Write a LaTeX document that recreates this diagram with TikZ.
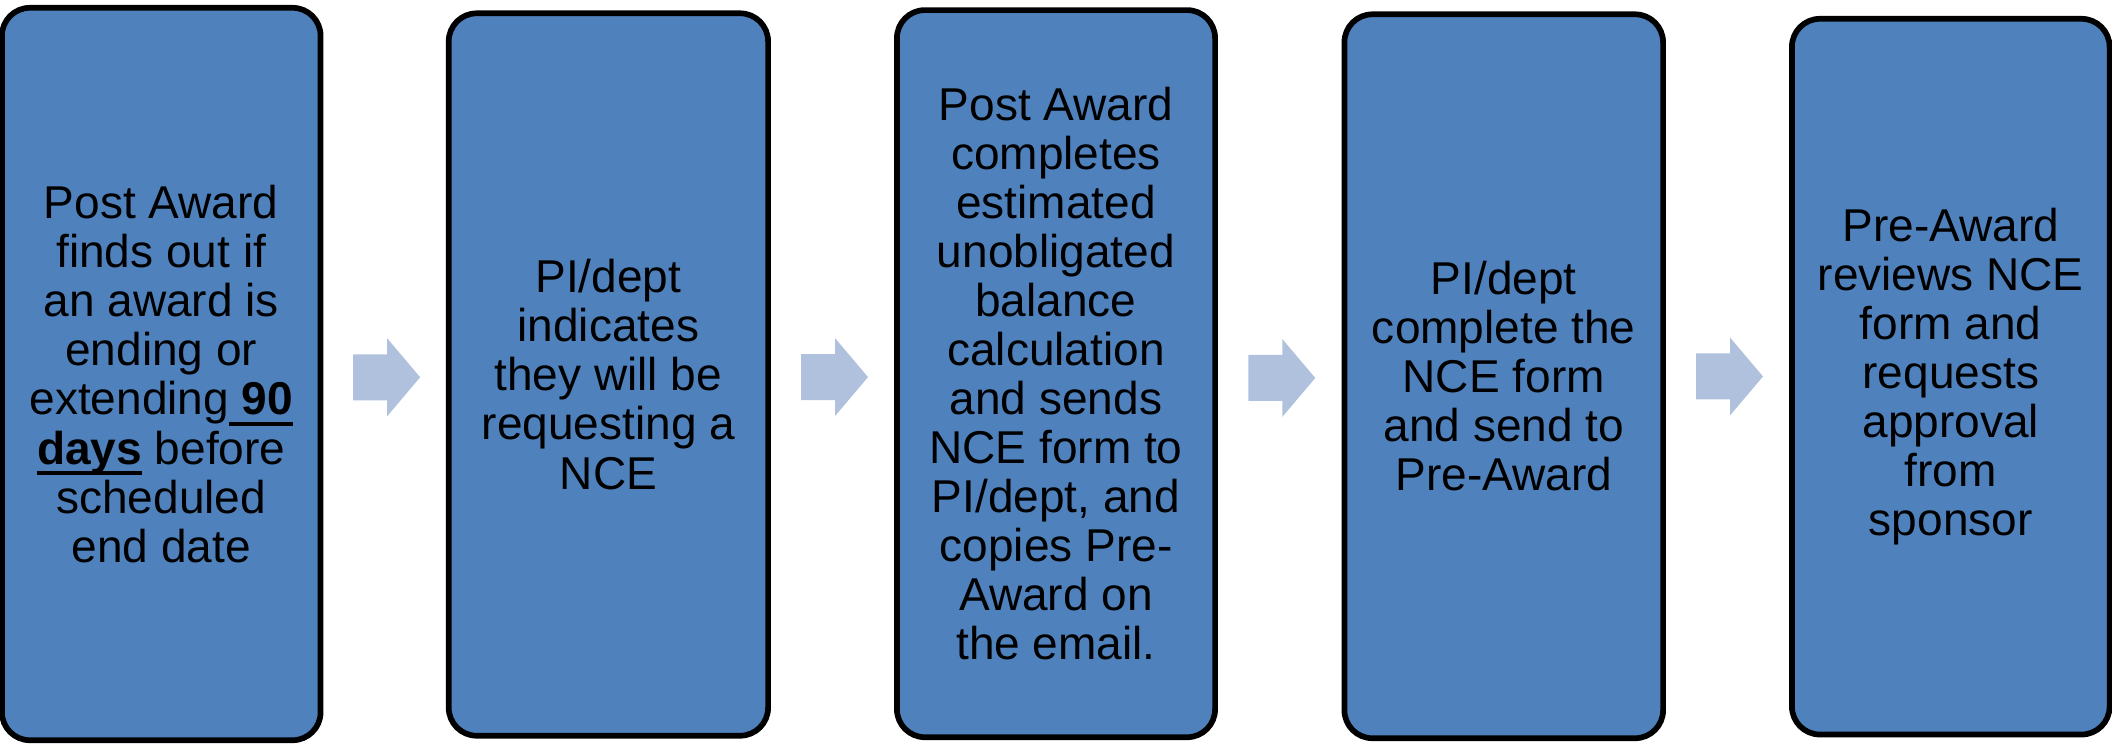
\documentclass[tikz,border=0pt]{standalone}
\usepackage{fontspec}
\setmainfont{Liberation Sans}
\usetikzlibrary{calc}
\definecolor{boxblue}{HTML}{4F81BD}
\definecolor{arrowblue}{HTML}{B0C1DD}
\newsavebox{\ulbox}
\newcommand{\ulx}[1]{\sbox{\ulbox}{#1}\rlap{\rule[-0.24em]{\wd\ulbox}{1.1pt}}\usebox{\ulbox}}
\tikzset{
  stepbox/.style={draw=black, line width=0.057cm, fill=boxblue, rounded corners=0.28cm,
    inner sep=0pt, align=center, text=black,
    font=\fontsize{13.09pt}{13.94pt}\selectfont},
  flowarrow/.style={fill=arrowblue, draw=none}
}
\newcommand{\blockarrow}[1]{%
  \fill[flowarrow] ($(#1)+(-33.5,-23)$) -- ($(#1)+(0.5,-23)$) -- ($(#1)+(0.5,-39)$) --
    ($(#1)+(33.5,0)$) -- ($(#1)+(0.5,39)$) -- ($(#1)+(0.5,23)$) -- ($(#1)+(-33.5,23)$) -- cycle;}
\begin{document}
\begin{tikzpicture}[x=0.01cm, y=-0.01cm]
\useasboundingbox (0,0) rectangle (2112,744);
\node[stepbox, minimum width=3.185cm, minimum height=7.32cm] (b1) at (161.25,374)
  {Post Award\\finds out if\\an award is\\ending or\\extending\ulx{\ \textbf{90}}\\\ulx{\textbf{days}} before\\scheduled\\end date};
\node[stepbox, minimum width=3.192cm, minimum height=7.22cm] (b2) at (608.4,374.5)
  {PI/dept\\indicates\\they will be\\requesting a\\NCE};
\node[stepbox, minimum width=3.18cm, minimum height=7.267cm] (b3) at (1056,373.65)
  {Post Award\\completes\\estimated\\unobligated\\balance\\calculation\\and sends\\NCE form to\\PI/dept, and\\copies Pre-\\Award on\\the email.};
\node[stepbox, minimum width=3.185cm, minimum height=7.235cm] (b4) at (1503.75,376.25)
  {PI/dept\\complete the\\NCE form\\and send to\\Pre-Award};
\node[stepbox, minimum width=3.175cm, minimum height=7.153cm] (b5) at (1950.75,376.65)
  {Pre-Award\\reviews NCE\\form and\\requests\\approval\\from\\sponsor};
\coordinate (m1) at ($(b1.east)!0.5!(b2.west)+(2,3)$);
\coordinate (m2) at ($(b2.east)!0.5!(b3.west)+(2,3)$);
\coordinate (m3) at ($(b3.east)!0.5!(b4.west)+(2,3)$);
\coordinate (m4) at ($(b4.east)!0.5!(b5.west)+(2,0)$);
\blockarrow{m1}
\blockarrow{m2}
\blockarrow{m3}
\blockarrow{m4}
\end{tikzpicture}
\end{document}
